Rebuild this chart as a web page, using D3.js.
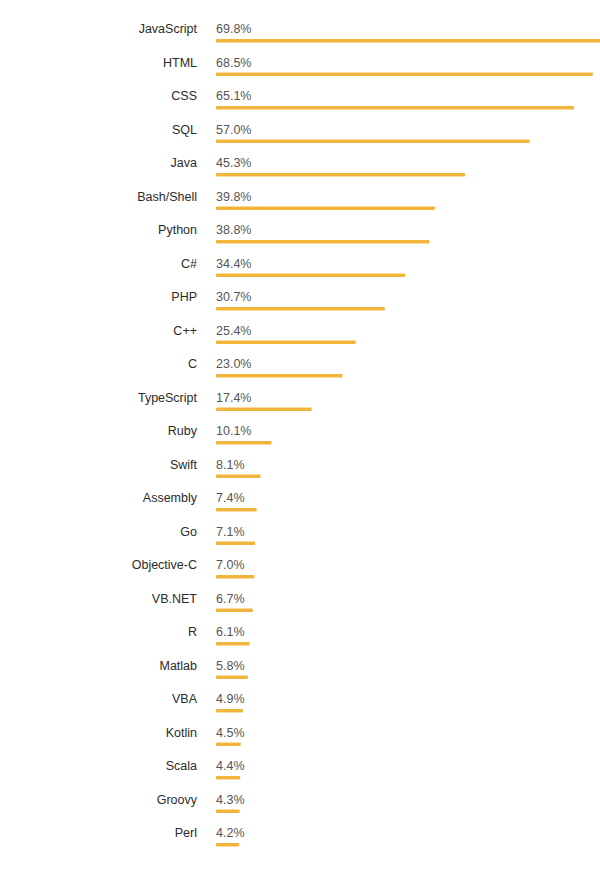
<!DOCTYPE html>
<html>
<head>
<meta charset="utf-8">
<script src="https://cdn.jsdelivr.net/npm/d3@7"></script>
<style>
  body { margin: 0; background: #fff; }
  svg text { font-family: "Liberation Sans", Arial, sans-serif; }
</style>
</head>
<body>
<div id="chart"></div>
<script>
// data
const languages = ['JavaScript','HTML','CSS','SQL','Java','Bash/Shell','Python','C#','PHP','C++','C','TypeScript','Ruby','Swift','Assembly','Go','Objective-C','VB.NET','R','Matlab','VBA','Kotlin','Scala','Groovy','Perl'];
const shares = [69.8,68.5,65.1,57.0,45.3,39.8,38.8,34.4,30.7,25.4,23.0,17.4,10.1,8.1,7.4,7.1,7.0,6.7,6.1,5.8,4.9,4.5,4.4,4.3,4.2];

const width = 600;
const height = 875;
const margin = { top: 12, left: 216, right: 0 };
const step = 33.5;

const svg = d3.select('#chart')
  .append('svg')
  .attr('width', width)
  .attr('height', height);

// x range: 0 -> 216, 69.8 -> 600
const x = d3.scaleLinear()
  .domain([0, 69.8])
  .range([margin.left, width - margin.right]);

const y = d3.scaleBand()
  .domain(languages)
  .range([margin.top, margin.top + step * languages.length])
  .padding(0);

const rows = svg.append('g')
  .selectAll('g')
  .data(languages)
  .join('g')
    .attr('transform', d => `translate(0,${y(d)})`);

// language names
rows.append('text')
  .attr('x', 197)
  .attr('y', 17)
  .attr('dy', '0.35em')
  .attr('text-anchor', 'end')
  .attr('font-size', '12.5px')
  .attr('fill', '#2b2b2b')
  .text(d => d);

// values
rows.append('text')
  .attr('x', margin.left)
  .attr('y', 17)
  .attr('dy', '0.35em')
  .attr('font-size', '12.5px')
  .attr('fill', '#555')
  .text((d, i) => shares[i].toFixed(1) + '%');

// bars
rows.append('rect')
  .attr('x', x(0))
  .attr('y', 27)
  .attr('height', 3.5)
  .attr('rx', 1)
  .attr('width', (d, i) => x(shares[i]) - x(0))
  .attr('fill', '#f2b53c');
</script>
</body>
</html>
